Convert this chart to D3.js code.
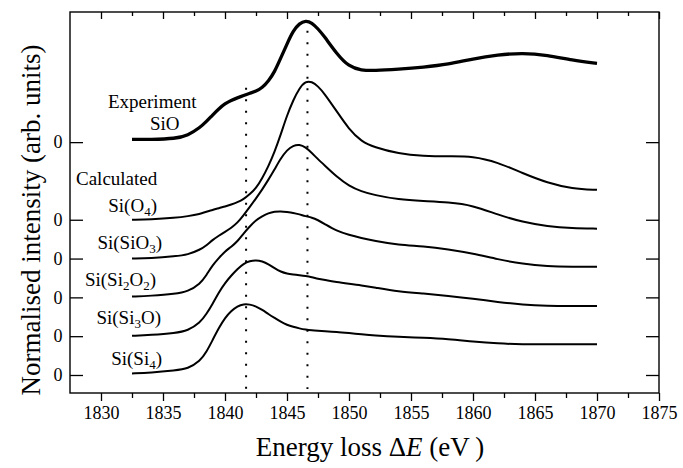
<!DOCTYPE html>
<html>
<head>
<meta charset="utf-8">
<script src="https://cdn.jsdelivr.net/npm/d3@7"></script>
<style>
body { margin: 0; background: #fff; }
text { font-family: "Liberation Serif", "Times New Roman", serif; fill: #000; }
</style>
</head>
<body>
<div id="chart"></div>
<script>
// energy grid (eV), shared by every spectrum
energy = [1832.5, 1834, 1836, 1837, 1838, 1838.5, 1839, 1839.5, 1840, 1840.5, 1841, 1841.5,
          1842, 1842.5, 1843, 1843.5, 1844, 1844.5, 1845, 1845.5, 1846, 1846.5, 1847, 1847.5,
          1848, 1849, 1850, 1851, 1852, 1854, 1856, 1858, 1860, 1862, 1864, 1866, 1868, 1870]

// intensities (arb. units), each relative to its own zero
sio     = [0.07, 0.07, 0.09, 0.17, 0.38, 0.53, 0.70, 0.86, 0.99, 1.08, 1.14, 1.20, 1.26, 1.31, 1.40, 1.57, 1.81, 2.17, 2.53,
           2.87, 3.06, 3.13, 3.08, 2.92, 2.73, 2.28, 1.94, 1.85, 1.84, 1.88, 1.93, 2.00, 2.15, 2.25, 2.30, 2.24, 2.11, 2.03]
siO4    = [0.00, 0.01, 0.05, 0.09, 0.15, 0.21, 0.25, 0.30, 0.34, 0.39, 0.45, 0.53, 0.66, 0.81, 1.07, 1.38, 1.75, 2.20, 2.69,
           3.08, 3.39, 3.57, 3.56, 3.44, 3.26, 2.80, 2.33, 2.02, 1.87, 1.70, 1.64, 1.63, 1.64, 1.48, 1.20, 0.95, 0.80, 0.77]
siSiO3  = [0.00, 0.01, 0.06, 0.10, 0.23, 0.34, 0.48, 0.59, 0.69, 0.79, 0.92, 1.12, 1.33, 1.55, 1.78, 2.03, 2.30, 2.58, 2.80,
           2.91, 2.94, 2.87, 2.72, 2.56, 2.41, 2.11, 1.87, 1.73, 1.64, 1.52, 1.48, 1.45, 1.37, 1.13, 0.94, 0.83, 0.78, 0.77]
siSi2O2 = [0.02, 0.04, 0.09, 0.15, 0.35, 0.57, 0.83, 1.01, 1.19, 1.30, 1.44, 1.65, 1.83, 1.99, 2.09, 2.17, 2.21, 2.22, 2.20,
           2.18, 2.14, 2.09, 2.06, 1.99, 1.90, 1.71, 1.61, 1.53, 1.46, 1.35, 1.32, 1.24, 1.13, 0.98, 0.86, 0.80, 0.79, 0.79]
siSi3O  = [0.01, 0.03, 0.08, 0.14, 0.35, 0.57, 0.83, 1.13, 1.37, 1.56, 1.73, 1.87, 1.94, 1.96, 1.93, 1.86, 1.75, 1.66, 1.61,
           1.59, 1.57, 1.55, 1.52, 1.48, 1.45, 1.39, 1.35, 1.31, 1.26, 1.15, 1.10, 1.04, 0.97, 0.88, 0.81, 0.78, 0.78, 0.78]
siSi4   = [0.04, 0.06, 0.12, 0.16, 0.36, 0.59, 0.90, 1.21, 1.47, 1.65, 1.77, 1.83, 1.82, 1.77, 1.68, 1.57, 1.47, 1.37, 1.29,
           1.24, 1.20, 1.17, 1.15, 1.14, 1.13, 1.11, 1.08, 1.05, 1.02, 0.98, 0.96, 0.93, 0.86, 0.81, 0.79, 0.79, 0.79, 0.79]

spectra = [sio, siO4, siSiO3, siSi2O2, siSi3O, siSi4]
offsets = [6, 4, 3, 2, 1, 0]
names = ['SiO', 'Si(O_4)', 'Si(SiO_3)', 'Si(Si_2O_2)', 'Si(Si_3O)', 'Si(Si_4)']

xTicks = [1830, 1835, 1840, 1845, 1850, 1855, 1860, 1865, 1870, 1875]
xMinorTicks = [1832.5, 1837.5, 1842.5, 1847.5, 1852.5, 1857.5, 1862.5, 1867.5, 1872.5]

// dotted guide lines
guideEnergy = [1841.7, 1846.65]
guideTop = [7.4, 8.87]

svgWidth = 683
svgHeight = 468

margin = {
    top: 12,
    left: 70,
    right: 24,
    bottom: 75
}

width = svgWidth - margin.left - margin.right
height = svgHeight - margin.top - margin.bottom

serif = '"Liberation Serif", "Times New Roman", serif'

svg = d3.select('#chart')
        .append('svg')
        .attr('width', svgWidth)
        .attr('height', svgHeight)

chartGroup = svg.append('g')
                .attr('transform', `translate(${margin.left},${margin.top})`)

xScale = d3.scaleLinear()
           .domain([1827.5, 1875])
           .range([0, width])
yScale = d3.scaleLinear()
           .domain([-0.464, 9.353])
           .range([height, 0])

// bottom axis: outward ticks with labels
bottomAxis = d3.axisBottom(xScale).tickValues(xTicks).tickSize(8).tickSizeOuter(0).tickPadding(5).tickFormat(d3.format('d'))
bottomMinor = d3.axisBottom(xScale).tickValues(xMinorTicks).tickSize(5).tickSizeOuter(0).tickFormat('')
topAxis = d3.axisTop(xScale).tickValues(xTicks).tickSize(-7).tickSizeOuter(0).tickFormat('')
topMinor = d3.axisTop(xScale).tickValues(xMinorTicks).tickSize(-4).tickSizeOuter(0).tickFormat('')

gx = chartGroup.append('g').attr('transform', `translate(0,${height})`).call(bottomAxis)
chartGroup.append('g').attr('transform', `translate(0,${height})`).call(bottomMinor)
chartGroup.append('g').call(topAxis)
chartGroup.append('g').call(topMinor)

gx.attr('font-family', null).attr('font-size', null)
gx.selectAll('text').style('font-size', '18px').style('font-family', serif)

// zero marks on both sides
leftAxis = d3.axisLeft(yScale).tickValues(offsets).tickSize(-13).tickSizeOuter(0).tickPadding(8).tickFormat(() => '0')
rightAxis = d3.axisRight(yScale).tickValues(offsets).tickSize(-13).tickSizeOuter(0).tickFormat('')
gy = chartGroup.append('g').call(leftAxis)
chartGroup.append('g').attr('transform', `translate(${width},0)`).call(rightAxis)
gy.attr('font-family', null).attr('font-size', null)
gy.selectAll('text').style('font-size', '18px').style('font-family', serif).attr('text-anchor', 'middle').attr('x', -12)

chartGroup.selectAll('.domain').remove()
chartGroup.selectAll('.tick line').attr('stroke', '#000').attr('stroke-width', 1.3)

chartGroup.append('rect')
          .attr('width', width)
          .attr('height', height)
          .attr('fill', 'none')
          .attr('stroke', '#000')
          .attr('stroke-width', 1.4)

// dotted guides
guideEnergy.forEach(function(e, i) {
    chartGroup.append('line')
              .attr('x1', xScale(e))
              .attr('x2', xScale(e))
              .attr('y1', yScale(guideTop[i]))
              .attr('y2', height - 4)
              .attr('stroke', '#000')
              .attr('stroke-width', 2)
              .attr('stroke-dasharray', '2,9.5')
})

line = d3.line().curve(d3.curveBasis)

spectra.forEach(function(values, i) {
    pts = energy.map((e, j) => [xScale(e), yScale(values[j] + offsets[i])])
    chartGroup.append('path')
              .attr('d', line(pts))
              .attr('fill', 'none')
              .attr('stroke', '#000')
              .attr('stroke-width', i == 0 ? 3.3 : 2)
              .attr('stroke-linejoin', 'round')
})

// labels with subscripts written as _n
function addLabel(x, y, str, anchor) {
    t = chartGroup.append('text')
                  .attr('x', x)
                  .attr('y', y)
                  .attr('font-size', 19)
                  .attr('text-anchor', anchor)
    shifted = false
    str.split(/(_\d)/).forEach(function(p) {
        if (p == '') return
        if (p[0] == '_') {
            t.append('tspan').attr('font-size', 13).attr('dy', 4).text(p[1])
            shifted = true
        } else {
            t.append('tspan').attr('dy', shifted ? -4 : 0).text(p)
            shifted = false
        }
    })
}

addLabel(38, 96, 'Experiment', 'start')
addLabel(80, 118, names[0], 'start')
addLabel(6, 173, 'Calculated', 'start')

labelEnd = [0, 87, 92, 86, 91, 92]
labelLift = [0, 8, 10, 11, 12, 10]
for (i = 1; i < names.length; i++) {
    addLabel(labelEnd[i], yScale(offsets[i]) - labelLift[i], names[i], 'end')
}

// axis titles
chartGroup.append('text')
          .attr('transform', 'rotate(-90)')
          .attr('x', 0 - 208)
          .attr('y', 0 - margin.left + 40)
          .attr('text-anchor', 'middle')
          .attr('font-size', 27)
          .text('Normalised intensity (arb. units)')

xt = chartGroup.append('text')
               .attr('x', 300)
               .attr('y', height + 63)
               .attr('text-anchor', 'middle')
               .attr('font-size', 27)
xt.append('tspan').text('Energy loss \u0394')
xt.append('tspan').attr('font-style', 'italic').text('E')
xt.append('tspan').text(' (eV\u2009)')
</script>
</body>
</html>
